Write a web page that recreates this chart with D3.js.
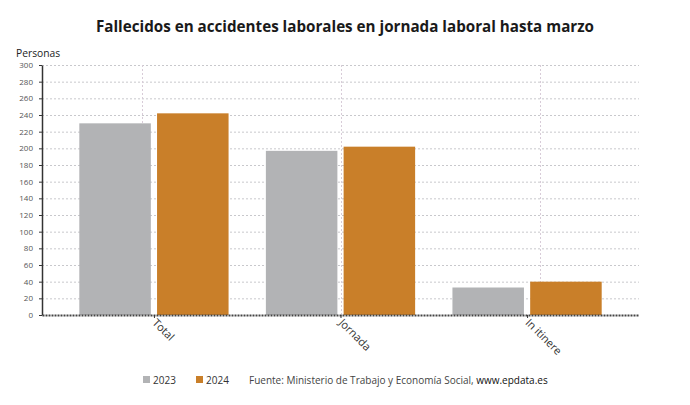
<!DOCTYPE html>
<html><head><meta charset="utf-8">
<script src="https://cdn.jsdelivr.net/npm/d3@7"></script>
<style>body{margin:0;background:#fff;}svg{display:block;font-family:"Open Sans",sans-serif;}</style>
</head><body><svg id="c" width="690" height="405"></svg>
<script>
const categories = ["Total", "Jornada", "In itinere"];
const seriesNames = ["2023", "2024"];
const values2023 = [230, 197, 33];
const values2024 = [242, 202, 40];
const yTicks = [0,20,40,60,80,100,120,140,160,180,200,220,240,260,280,300];
const colors = ["#b2b3b5", "#c97f29"];

(function(){
const svg = d3.select("#c");
const pL = 42, pR = 639, pT = 65, pB = 315;

const y = d3.scaleLinear().domain([0, 300]).range([pB, pT]);
const x0 = d3.scaleBand().domain(categories).range([pL, pR]).paddingInner(0.2).paddingOuter(0.2);
const x1 = d3.scaleBand().domain(seriesNames).range([0, x0.bandwidth()]).paddingInner(0.08).paddingOuter(0);
const xg = d3.scalePoint().domain(categories).range([pL, pR]).padding(0.5);

// title
svg.append("text").attr("x", 345).attr("y", 32).attr("text-anchor", "middle")
  .attr("font-size", 15.2).attr("font-weight", 700).attr("fill", "#1a1a1a")
  .text("Fallecidos en accidentes laborales en jornada laboral hasta marzo");
svg.append("text").attr("x", 16).attr("y", 57).attr("font-size", 10.3).attr("fill", "#222").text("Personas");

// gridlines
svg.append("g").selectAll("line").data(yTicks.filter(d => d > 0)).join("line")
  .attr("x1", pL).attr("x2", pR).attr("y1", d => y(d) + 0.5).attr("y2", d => y(d) + 0.5)
  .attr("stroke", "#c8c8cc").attr("stroke-dasharray", "2,2").attr("stroke-width", 1);
svg.append("g").selectAll("line").data(categories).join("line")
  .attr("x1", d => Math.round(xg(d)) + 0.5).attr("x2", d => Math.round(xg(d)) + 0.5)
  .attr("y1", pT).attr("y2", pB)
  .attr("stroke", "#d8ccd8").attr("stroke-dasharray", "2,2").attr("stroke-width", 1);

// bars
const rows = categories.map((c, i) => ({cat: c, vals: [values2023[i], values2024[i]]}));
const g = svg.append("g");
rows.forEach(r => {
  r.vals.forEach((v, j) => {
    g.append("rect")
      .attr("x", x0(r.cat) + x1(seriesNames[j]))
      .attr("y", y(v)).attr("width", x1.bandwidth()).attr("height", y(0) - y(v))
      .attr("fill", colors[j]);
  });
});

// y axis
const yAxis = d3.axisLeft(y).tickValues(yTicks).tickSize(3).tickSizeOuter(0).tickPadding(6);
const ya = svg.append("g").attr("transform", `translate(${pL},0)`).call(yAxis);
ya.select(".domain").attr("stroke", "#333").attr("stroke-width", 1.5);
ya.selectAll(".tick line").attr("stroke", "#333");
ya.selectAll("text").attr("font-size", 8).attr("fill", "#555").attr("font-family", "Open Sans, sans-serif");

// x axis
const xa = svg.append("g").attr("transform", `translate(0,${pB})`)
  .call(d3.axisBottom(xg).tickSize(3).tickSizeOuter(0).tickPadding(4));
xa.select(".domain").attr("stroke", "#444").attr("stroke-width", 2).attr("stroke-dasharray", "2,1");
xa.selectAll(".tick line").attr("stroke", "#333").attr("transform", d => `translate(${x0(d) + x0.bandwidth()/2 - xg(d)},0)`);
xa.selectAll(".tick text").attr("font-size", 11).attr("fill", "#333").attr("font-family", "Open Sans, sans-serif")
  .attr("text-anchor", "start")
  .attr("transform", d => `translate(${x0(d) + x0.bandwidth()/2 - xg(d)},0) rotate(45)`)
  .attr("x", 4).attr("y", 4).attr("dy", "0.35em");

// legend
const leg = svg.append("g").attr("font-size", 10).attr("fill", "#333");
const items = [{n: seriesNames[0], c: colors[0], x: 143}, {n: seriesNames[1], c: colors[1], x: 196}];
items.forEach(it => {
  leg.append("rect").attr("x", it.x).attr("y", 376).attr("width", 7).attr("height", 7).attr("fill", it.c);
  leg.append("text").attr("x", it.x + 10).attr("y", 384).text(it.n);
});
const src = leg.append("text").attr("x", 249).attr("y", 384);
src.append("tspan").attr("fill", "#444").text("Fuente: Ministerio de Trabajo y Economía Social, ");
src.append("tspan").attr("fill", "#111").text("www.epdata.es");
})();
</script></body></html>
